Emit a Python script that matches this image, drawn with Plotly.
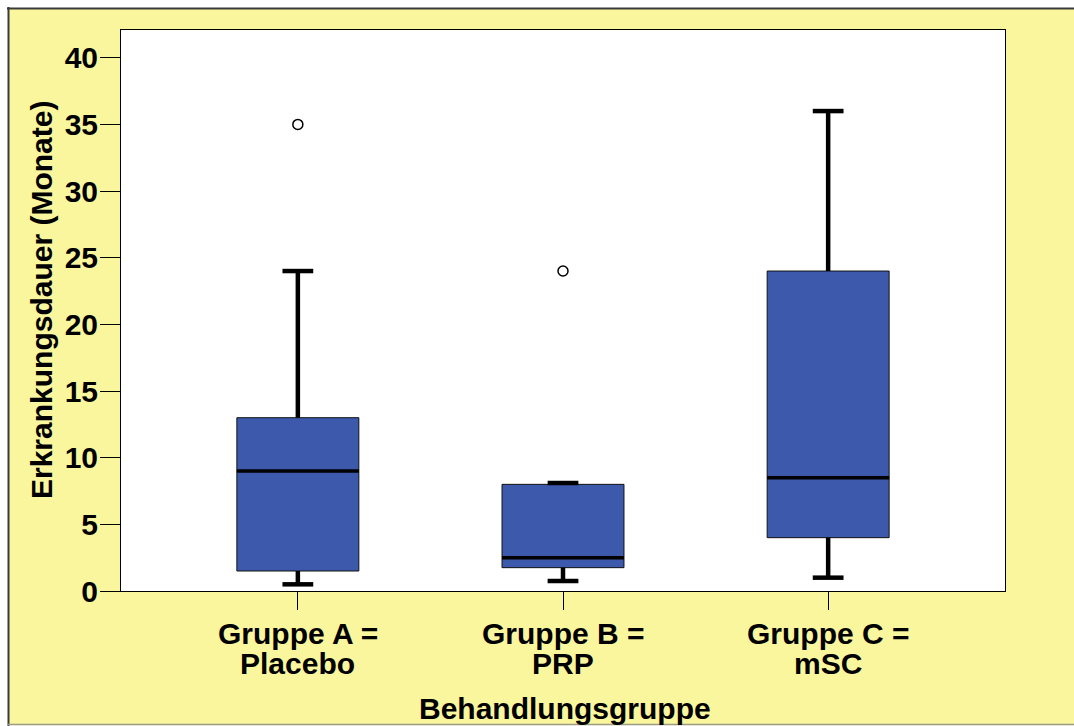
import plotly.graph_objects as go

# ---- data ----
group_line1 = ["Gruppe A =", "Gruppe B =", "Gruppe C ="]
group_line2 = ["Placebo", "PRP", "mSC"]
lower_whisker = [0.5, 0.75, 1.0]
q1 = [1.5, 1.75, 4.0]
median = [9.0, 2.5, 8.5]
q3 = [13.0, 8.0, 24.0]
upper_whisker = [24.0, 8.1, 36.0]
outliers = [[35.0], [24.0], []]
y_ticks = [0, 5, 10, 15, 20, 25, 30, 35, 40]

# ---- style ----
W, H = 1074, 726
L, R, T, B = 121, 69, 30, 135
PW, PH = W - L - R, H - T - B
FONT = "Arial, 'Liberation Sans', sans-serif"
FS = 30
YELLOW = "#F9F69E"
BLUE = "#3D59AB"
BOX_W = 0.46
CAP_W = 0.116


def px(xpix):
    return (xpix - L) / PW


def py(ypix):
    return (H - B - ypix) / PH


fig = go.Figure()

for i in range(len(group_line1)):
    fig.add_trace(go.Box(
        x=[i], q1=[q1[i]], median=[median[i]], q3=[q3[i]],
        lowerfence=[lower_whisker[i]], upperfence=[upper_whisker[i]],
        width=BOX_W, fillcolor=BLUE, line=dict(color="#111111", width=1),
        whiskerwidth=0, boxpoints=False, showlegend=False, hoverinfo="skip",
    ))

# thick whiskers with caps
wx, wy = [], []
for i in range(len(group_line1)):
    wx += [i, i, None, i, i, None]
    wy += [q3[i], upper_whisker[i], None, q1[i], lower_whisker[i], None]
    for v in (upper_whisker[i], lower_whisker[i]):
        wx += [i - CAP_W / 2, i + CAP_W / 2, None]
        wy += [v, v, None]
fig.add_trace(go.Scatter(x=wx, y=wy, mode="lines",
                         line=dict(color="black", width=4.5),
                         showlegend=False, hoverinfo="skip"))

# thick medians
mx, my = [], []
for i in range(len(group_line1)):
    mx += [i - BOX_W / 2, i + BOX_W / 2, None]
    my += [median[i], median[i], None]
fig.add_trace(go.Scatter(x=mx, y=my, mode="lines",
                         line=dict(color="black", width=3.5),
                         showlegend=False, hoverinfo="skip"))

# outliers
ox, oy = [], []
for i, vals in enumerate(outliers):
    for v in vals:
        ox.append(i)
        oy.append(v)
fig.add_trace(go.Scatter(x=ox, y=oy, mode="markers",
                         marker=dict(symbol="circle", size=10, color="white",
                                     line=dict(color="black", width=1.5)),
                         showlegend=False, hoverinfo="skip"))

# background frame
shapes = [
    dict(type="rect", xref="paper", yref="paper", layer="below",
         x0=px(8), x1=px(1080), y0=py(725), y1=py(8),
         fillcolor=YELLOW, line=dict(width=0)),
    dict(type="rect", xref="paper", yref="paper", layer="below",
         x0=0, x1=1, y0=0, y1=1, fillcolor="white", line=dict(width=0)),
    dict(type="line", xref="paper", yref="paper",
         x0=px(8.5), x1=px(8.5), y0=py(730), y1=py(7),
         line=dict(color="#3a3a3a", width=2)),
    dict(type="line", xref="paper", yref="paper",
         x0=px(7), x1=px(1080), y0=py(8.5), y1=py(8.5),
         line=dict(color="#3a3a3a", width=2)),
    dict(type="line", xref="paper", yref="paper",
         x0=px(8), x1=px(1080), y0=py(724.5), y1=py(724.5),
         line=dict(color="#9c9c80", width=1.5)),
]

annotations = []
for i in range(len(group_line1)):
    annotations.append(dict(x=i, xref="x", y=py(633), yref="paper",
                            text=group_line1[i], showarrow=False,
                            xanchor="center", yanchor="middle",
                            font=dict(family=FONT, size=FS, color="black", weight="bold")))
    annotations.append(dict(x=i, xref="x", y=py(663), yref="paper",
                            text=group_line2[i], showarrow=False,
                            xanchor="center", yanchor="middle",
                            font=dict(family=FONT, size=FS, color="black", weight="bold")))
annotations.append(dict(x=px(565), xref="paper", y=py(708), yref="paper",
                        text="Behandlungsgruppe", showarrow=False,
                        xanchor="center", yanchor="middle",
                        font=dict(family=FONT, size=FS, color="black", weight="bold")))
annotations.append(dict(x=px(41), xref="paper", y=py(300), yref="paper",
                        text="Erkrankungsdauer (Monate)", showarrow=False,
                        textangle=-90, xanchor="center", yanchor="middle",
                        font=dict(family=FONT, size=FS, color="black", weight="bold")))

fig.update_layout(
    width=W, height=H,
    margin=dict(l=L, r=R, t=T, b=B, pad=0),
    paper_bgcolor="white", plot_bgcolor="white",
    shapes=shapes, annotations=annotations,
    showlegend=False,
    xaxis=dict(range=[-0.667, 2.667], tickvals=list(range(len(group_line1))),
               showticklabels=False, ticks="outside", ticklen=18,
               tickwidth=1, tickcolor="black", showline=True, linecolor="black",
               linewidth=1, mirror=True, showgrid=False, zeroline=False),
    yaxis=dict(range=[0, 42.08], tickvals=y_ticks, ticks="outside", ticklen=20,
               tickwidth=1, tickcolor="black", showline=True, linecolor="black",
               linewidth=1, mirror=True, showgrid=False, zeroline=False,
               ticklabelstandoff=-4,
               tickfont=dict(family=FONT, size=FS, color="black", weight="bold")),
)

fig.write_html("out.html",
               config={"displayModeBar": False},
               post_script="document.body.style.margin='0';"
                           "document.documentElement.style.overflow='hidden';"
                           "document.body.style.overflow='hidden';")
